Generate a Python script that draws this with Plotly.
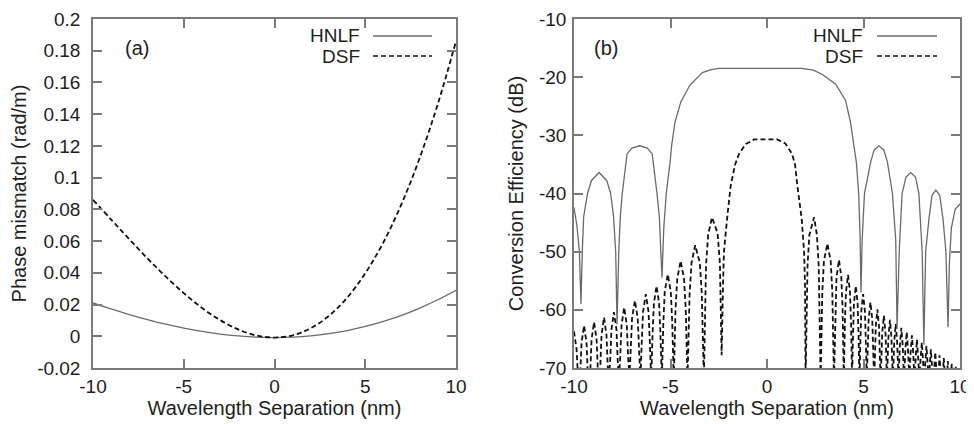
import plotly.graph_objects as go

# ---------------- data ----------------
wavelength_nm = [-10, -9, -8, -7, -6, -5, -4, -3, -2, -1, 0, 1, 2, 3, 4, 5, 6, 7, 8, 9, 10]
phase_hnlf = [0.021, 0.0172, 0.0137, 0.0105, 0.0076, 0.0052, 0.0031, 0.0014, 0.0002, -0.0006,
              -0.0008, -0.0005, 0.0003, 0.0017, 0.0036, 0.0062, 0.0094, 0.0132, 0.0178, 0.0230, 0.029]
phase_dsf = [0.086, 0.0736, 0.0612, 0.0491, 0.0377, 0.0272, 0.0179, 0.0102, 0.0043, 0.0005,
             -0.0008, 0.0006, 0.0051, 0.0129, 0.0243, 0.0397, 0.0592, 0.0834, 0.1124, 0.1465, 0.186]

ce_hnlf_x = [-10.0, -9.85, -9.72, -9.64,
             -9.57, -9.5, -9.3, -9.1, -8.7, -8.3, -8.1, -7.95, -7.84, -7.77,
             -7.68, -7.6, -7.5, -7.25, -7.0, -6.6, -6.2, -5.95, -5.7, -5.58, -5.5, -5.44,
             -5.35, -5.22, -5.02, -4.94, -4.77, -4.47, -4.0, -3.35, -2.9, -2.49, 1.8, 2.4, 2.85, 3.56, 4.07,
             4.33, 4.5, 4.63, 4.75, 4.82, 4.87,
             4.93, 5.05, 5.37, 5.55, 5.8, 6.05, 6.24, 6.5, 6.67, 6.74,
             6.85, 7.0, 7.2, 7.45, 7.7, 7.87, 8.04, 8.13,
             8.22, 8.39, 8.55, 8.75, 8.95, 9.12, 9.27, 9.38,
             9.45, 9.55, 9.75, 10.0]
ce_hnlf_y = [-42.4, -45.5, -50, -59,
             -50, -44, -40, -37.8, -36.4, -37.8, -40, -44, -50, -62.5,
             -50, -44, -40, -33.2, -32.2, -31.8, -32.2, -33.2, -40, -44, -50, -54.5,
             -46, -40, -34.6, -31.7, -27.8, -24.3, -21.4, -19.2, -18.7, -18.5, -18.5, -18.8, -19.5, -21.2, -24,
             -27.8, -31.7, -34.6, -40, -47, -57,
             -48, -40, -34.6, -32.5, -31.8, -32.5, -34.6, -40, -48, -63.3,
             -50, -40, -37.2, -36.4, -37.2, -40, -50, -66,
             -50, -44.4, -40.3, -39.4, -40.3, -44.4, -50, -63,
             -52, -46, -42.7, -41.8]

ce_dsf_x = [-10.0, -9.87, -9.8, -9.74,
            -9.675, -9.61, -9.48, -9.35, -9.285, -9.22,
            -9.155, -9.09, -8.96, -8.83, -8.765, -8.70,
            -8.636, -8.573, -8.445, -8.318, -8.254, -8.19,
            -8.125, -8.06, -7.93, -7.80, -7.735, -7.67,
            -7.603, -7.535, -7.40, -7.265, -7.198, -7.13,
            -7.06, -6.99, -6.845, -6.70, -6.63, -6.56,
            -6.49, -6.42, -6.28, -6.14, -6.07, -6.0,
            -5.93, -5.86, -5.725, -5.59, -5.52, -5.45,
            -5.37, -5.30, -5.14, -4.985, -4.91, -4.83,
            -4.74, -4.65, -4.475, -4.30, -4.21, -4.12,
            -4.01, -3.91, -3.72, -3.48, -3.38, -3.27,
            -3.16, -3.05, -2.85, -2.56, -2.44, -2.35,
            -2.28, -2.23, -2.07, -1.88, -1.65, -1.45, -1.1, -0.67, 0.53, 0.95, 1.3, 1.45, 1.57, 1.8, 1.92, 1.97, 2.0,
            2.10, 2.195, 2.44, 2.585, 2.68, 2.78,
            2.866, 2.95, 3.13, 3.30, 3.384, 3.47,
            3.534, 3.60, 3.73, 3.85, 3.916, 3.98,
            4.034, 4.09, 4.2, 4.30, 4.356, 4.41,
            4.458, 4.505, 4.6, 4.695, 4.742, 4.79,
            4.838, 4.885, 4.98, 5.075, 5.122, 5.17,
            5.218, 5.265, 5.36, 5.455, 5.502, 5.55,
            5.593, 5.635, 5.72, 5.805, 5.848, 5.89,
            5.97, 6.055, 6.14, 6.215,
            6.29, 6.37, 6.445, 6.52,
            6.595, 6.67, 6.74, 6.815,
            6.885, 6.96, 7.03, 7.10,
            7.17, 7.24, 7.305, 7.375,
            7.44, 7.51, 7.575, 7.64,
            7.705, 7.77, 7.83, 7.895,
            7.955, 8.02, 8.08, 8.14,
            8.2, 8.26, 8.32, 8.375,
            8.43, 8.49, 8.55, 8.605,
            8.66, 8.72, 8.775, 8.83,
            8.885, 8.94, 8.995, 9.05,
            9.105, 9.16, 9.21, 9.265,
            9.32, 9.37, 9.42, 9.475,
            9.58, 9.68, 9.78, 9.875, 9.97]
ce_dsf_y = [-63.7, -66.7, -71, -72,
            -71, -65.7, -62.7, -65.7, -71, -72,
            -70.4, -65.1, -62.1, -65.1, -70.4, -72,
            -69.6, -64.3, -61.3, -64.3, -69.6, -72,
            -68.7, -63.4, -60.4, -63.4, -68.7, -72,
            -67.9, -62.6, -59.6, -62.6, -67.9, -72,
            -66.7, -61.4, -58.4, -61.4, -66.7, -72,
            -65.6, -60.3, -57.3, -60.3, -65.6, -72,
            -64.2, -58.9, -55.9, -58.9, -64.2, -72,
            -62.2, -56.9, -53.9, -56.9, -62.2, -72,
            -59.9, -54.6, -51.6, -54.6, -59.9, -72,
            -57.2, -51.9, -48.9, -51.9, -57.2, -72,
            -52.4, -47.1, -44.1, -46.8, -52, -67.8,
            -55.8, -50, -44.4, -38.6, -35, -33.2, -31.5, -30.7, -30.7, -31.4, -33.2, -35, -38.6, -44.4, -50, -55.8, -72,
            -52.4, -47.1, -44.1, -47.1, -52.4, -72,
            -56.9, -51.6, -48.6, -51.6, -56.9, -72,
            -59.7, -54.4, -51.4, -54.4, -59.7, -72,
            -62.3, -57, -54, -57, -62.3, -72,
            -64.2, -58.9, -55.9, -58.9, -64.2, -72,
            -65.6, -60.3, -57.3, -60.3, -65.6, -72,
            -67, -61.7, -58.7, -61.7, -67, -72,
            -68.2, -62.9, -59.9, -62.9, -68.2, -72,
            -64, -61, -64, -72,
            -64.7, -61.7, -64.7, -72,
            -65.4, -62.4, -65.4, -72,
            -66.1, -63.1, -66.1, -72,
            -66.8, -63.8, -66.8, -72,
            -67.4, -64.4, -67.4, -72,
            -68.1, -65.1, -68.1, -72,
            -68.6, -65.6, -68.6, -72,
            -69.2, -66.2, -69.2, -72,
            -69.8, -66.8, -69.8, -72,
            -70.3, -67.3, -70.3, -72,
            -70.8, -67.8, -70.8, -72,
            -71.3, -68.3, -71.3, -72,
            -71.8, -68.8, -71.8, -72,
            -69.3, -72, -69.8, -72, -70.2]

x_ticks = [-10, -5, 0, 5, 10]
x_ticktext = ["-10", "-5", "0", "5", "10"]
phase_ticks = [-0.02, 0, 0.02, 0.04, 0.06, 0.08, 0.1, 0.12, 0.14, 0.16, 0.18, 0.2]
phase_ticktext = ["-0.02", "0", "0.02", "0.04", "0.06", "0.08", "0.1", "0.12", "0.14", "0.16", "0.18", "0.2"]
ce_ticks = [-70, -60, -50, -40, -30, -20, -10]
ce_ticktext = ["-70", "-60", "-50", "-40", "-30", "-20", "-10"]

# ---------------- styles ----------------
FONT = "Liberation Sans, Arial, sans-serif"
TXT = "#1e1e1e"
FRAME = "#7a7a7a"
HNLF_COLOR = "#6a6a6a"
DSF_COLOR = "#111111"
DASH = "5px,3px"

# the page body has an 8 px default margin: size the figure to fit the window
OFF = 8
W, H = 974 - OFF, 424 - OFF


def px(sx):
    return (sx - OFF) / W


def py(sy):
    return 1 - (sy - OFF) / H


fig = go.Figure()
fig.add_trace(go.Scatter(x=wavelength_nm, y=phase_hnlf, mode="lines", name="HNLF",
                         line=dict(color=HNLF_COLOR, width=1.3, shape="spline"),
                         xaxis="x", yaxis="y", showlegend=False))
fig.add_trace(go.Scatter(x=wavelength_nm, y=phase_dsf, mode="lines", name="DSF",
                         line=dict(color=DSF_COLOR, width=1.8, dash=DASH, shape="spline"),
                         xaxis="x", yaxis="y", showlegend=False))
fig.add_trace(go.Scatter(x=ce_dsf_x, y=ce_dsf_y, mode="lines", name="DSF",
                         line=dict(color=DSF_COLOR, width=1.8, dash=DASH),
                         xaxis="x2", yaxis="y2", showlegend=False))
fig.add_trace(go.Scatter(x=ce_hnlf_x, y=ce_hnlf_y, mode="lines", name="HNLF",
                         line=dict(color=HNLF_COLOR, width=1.3),
                         xaxis="x2", yaxis="y2", showlegend=False))

ax_common = dict(showgrid=False, zeroline=False, showline=True, linecolor=FRAME, linewidth=1.5,
                 mirror="ticks", ticks="inside", ticklen=9, tickwidth=1.5, tickcolor=FRAME,
                 tickfont=dict(family=FONT, size=19, color=TXT), automargin=False,
                 ticklabeloverflow="allow")
title_font = dict(family=FONT, size=20, color=TXT)

yd = [py(368), py(19)]
fig.update_layout(
    width=W, height=H,
    margin=dict(l=0, r=0, t=0, b=0),
    paper_bgcolor="white", plot_bgcolor="white",
    font=dict(family=FONT, color=TXT),
    xaxis=dict(domain=[px(93), px(456)], range=[-10, 10], tickvals=x_ticks, ticktext=x_ticktext,
               title=dict(text="Wavelength Separation (nm)", font=title_font, standoff=4),
               ticklabelstandoff=0, anchor="y", **ax_common),
    yaxis=dict(domain=yd, range=[-0.02, 0.2], tickvals=phase_ticks, ticktext=phase_ticktext,
               title=dict(text="Phase mismatch (rad/m)", font=title_font, standoff=6),
               ticklabelstandoff=7, anchor="x", **ax_common),
    xaxis2=dict(domain=[px(574), px(960)], range=[-10, 10], tickvals=x_ticks, ticktext=x_ticktext,
                title=dict(text="Wavelength Separation (nm)", font=title_font, standoff=4),
                ticklabelstandoff=0, anchor="y2", **ax_common),
    yaxis2=dict(domain=yd, range=[-70, -10], tickvals=ce_ticks, ticktext=ce_ticktext,
                title=dict(text="Conversion Efficiency (dB)", font=title_font, standoff=10),
                ticklabelstandoff=2, anchor="x2", **ax_common),
)

# panel labels and gnuplot-style keys (text on the left, line sample on the right)
ann = []
shapes = []
panels = [("(a)", 137, 362, 373, 432), ("(b)", 606, 865, 877, 937)]
for lab, lab_x, key_r, s0, s1 in panels:
    ann.append(dict(text=lab, x=px(lab_x), y=py(48), xref="paper", yref="paper",
                    xanchor="center", yanchor="middle", showarrow=False,
                    font=dict(family=FONT, size=20, color=TXT)))
    ann.append(dict(text="HNLF", x=px(key_r), y=py(36), xref="paper", yref="paper",
                    xanchor="right", yanchor="middle", showarrow=False,
                    font=dict(family=FONT, size=19, color=TXT)))
    ann.append(dict(text="DSF", x=px(key_r), y=py(56), xref="paper", yref="paper",
                    xanchor="right", yanchor="middle", showarrow=False,
                    font=dict(family=FONT, size=19, color=TXT)))
    shapes.append(dict(type="line", xref="paper", yref="paper", x0=px(s0), x1=px(s1),
                       y0=py(36), y1=py(36), line=dict(color=HNLF_COLOR, width=1.3)))
    shapes.append(dict(type="line", xref="paper", yref="paper", x0=px(s0), x1=px(s1),
                       y0=py(56), y1=py(56), line=dict(color=DSF_COLOR, width=1.5, dash=DASH)))
fig.update_layout(annotations=ann, shapes=shapes)

fig.write_html("out.html")
